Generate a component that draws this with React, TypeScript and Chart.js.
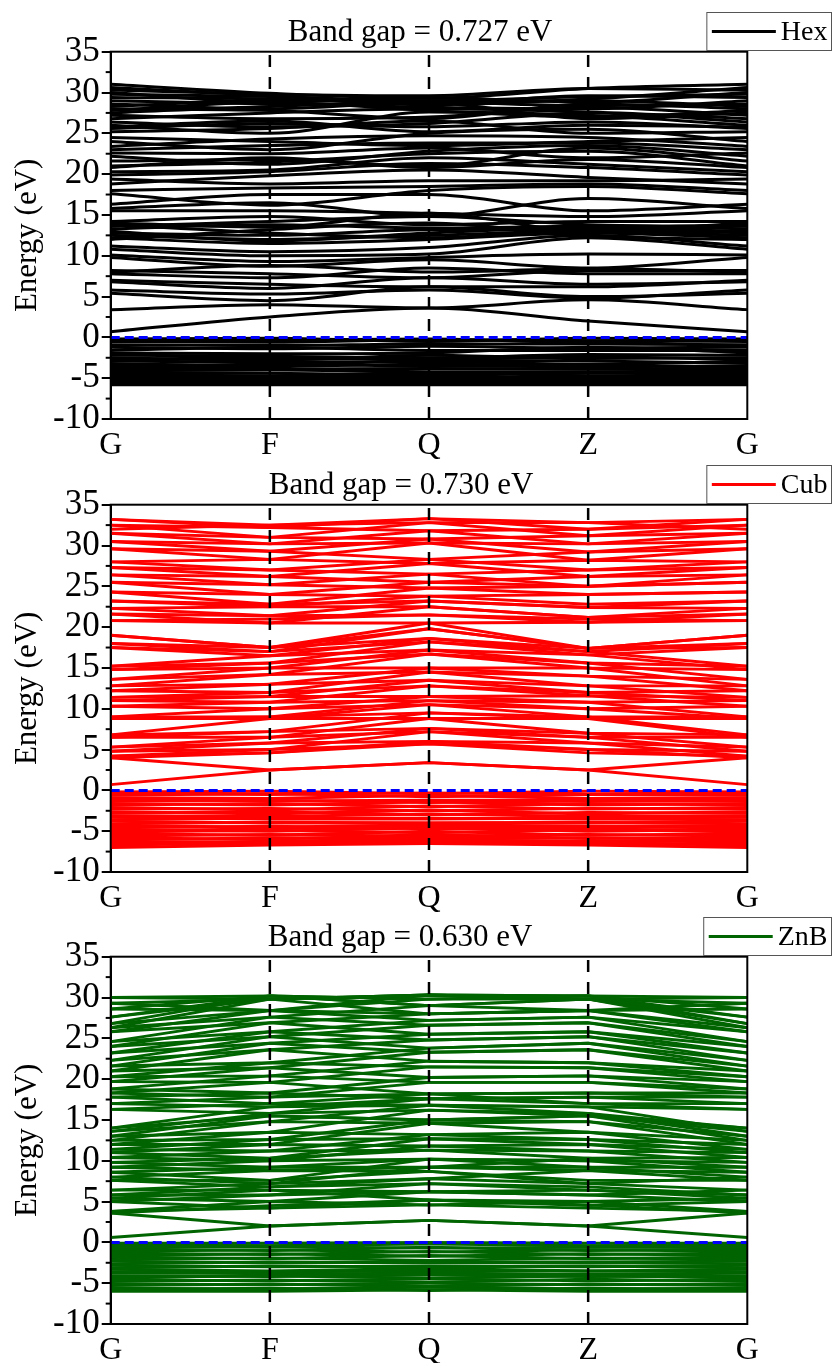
import React, { useEffect, useRef } from "react";
import { Chart, registerables } from "chart.js";

Chart.register(...registerables);

// ---------- shared axis data ----------
const kPositions = [0, 1, 2, 3, 4];
const kLabels = ["G", "F", "Q", "Z", "G"];
const yRange = [-10, 35];
const yStep = 5;
const fermiLevel = 0;

// ---------- Hex (energies in eV at G, F, Q, Z) ----------
const hexCondG = [0.7, 3.4, 5.4, 5.8, 6.8, 7.0, 7.8, 8.2, 9.8, 10.1, 10.8, 11.2, 12.2, 12.5, 12.8, 13.0, 13.3, 13.6, 14.0, 15.5, 15.8, 16.3, 17.6, 18.0, 18.8, 19.9, 20.3, 21.0, 21.6, 22.6, 23.0, 23.4, 24.0, 25.2, 25.6, 26.0, 26.8, 27.2, 27.5, 28.0, 28.3, 29.0, 29.8, 30.3, 30.6, 31.0, 24.5, 25.8, 26.4, 27.8, 28.6, 29.4, 30.0, 13.8, 12.0, 22.2, 20.8, 8.0, 14.2, 19.4];
const hexCondF = [2.5, 4.0, 4.5, 5.3, 6.0, 6.5, 7.3, 7.8, 8.7, 9.3, 10.0, 10.5, 11.5, 12.0, 12.5, 11.8, 13.8, 14.2, 13.5, 15.5, 16.5, 17.5, 16.2, 18.3, 19.8, 20.3, 20.5, 21.5, 21.8, 22.5, 23.5, 24.3, 23.0, 25.6, 26.2, 25.0, 27.5, 26.8, 28.3, 27.8, 29.0, 28.6, 29.5, 29.8, 29.6, 29.9, 24.0, 26.5, 25.8, 28.8, 28.0, 29.2, 28.8, 12.8, 13.2, 21.2, 22.0, 8.8, 14.8, 18.8];
const hexCondQ = [3.6, 3.6, 6.2, 5.8, 7.3, 6.2, 8.5, 7.3, 9.5, 9.8, 10.2, 11.0, 12.0, 12.5, 13.2, 12.8, 13.4, 14.8, 15.2, 15.2, 14.8, 17.5, 18.0, 18.5, 20.5, 21.3, 22.0, 22.5, 21.0, 23.2, 23.8, 24.7, 25.0, 26.5, 25.8, 27.6, 28.0, 27.0, 28.7, 26.8, 29.0, 28.2, 29.0, 29.6, 28.5, 29.3, 23.5, 25.2, 26.2, 27.8, 28.8, 28.6, 29.4, 12.2, 14.0, 22.8, 20.8, 8.0, 13.8, 19.2];
const hexCondZ = [2.0, 4.6, 5.0, 4.8, 6.5, 6.2, 7.8, 8.2, 8.5, 10.2, 12.2, 12.5, 12.8, 13.0, 13.2, 13.4, 13.6, 13.8, 13.0, 14.8, 17.0, 15.5, 18.5, 18.8, 19.6, 20.8, 21.2, 22.8, 23.2, 22.0, 23.8, 24.5, 25.5, 25.0, 26.4, 27.2, 27.6, 28.2, 26.8, 28.6, 29.0, 28.0, 29.5, 30.5, 29.2, 30.5, 24.0, 26.0, 27.5, 27.0, 28.4, 29.6, 28.8, 13.3, 12.4, 23.5, 21.8, 8.4, 14.2, 19.2];
const hexValG = [-0.2, -0.5, -0.9, -1.2, -1.6, -1.9, -2.2, -2.5, -2.9, -3.2, -3.5, -3.8, -4.1, -4.3, -4.6, -4.9, -5.2, -5.5, -5.8, -0.3, -2.7, -3.7, -4.8, -5.6, -5.0];
const hexValF = [-0.1, -0.6, -1.0, -1.4, -1.2, -2.0, -2.3, -2.8, -3.0, -3.5, -3.3, -3.9, -4.0, -4.4, -4.7, -5.0, -5.2, -5.5, -5.8, -0.3, -2.5, -3.6, -4.8, -5.7, -5.4];
const hexValQ = [-0.5, -0.3, -0.8, -1.1, -1.6, -1.9, -2.5, -2.2, -3.0, -2.8, -3.5, -3.8, -4.2, -4.6, -4.3, -5.0, -5.3, -5.5, -5.8, -0.2, -2.7, -3.3, -4.8, -5.6, -5.1];
const hexValZ = [-0.1, -0.4, -0.8, -1.3, -1.6, -1.2, -2.1, -2.6, -3.3, -2.9, -3.6, -3.9, -4.2, -4.4, -4.7, -5.0, -5.3, -5.5, -5.8, -0.6, -2.4, -3.4, -4.9, -5.7, -5.2];

// ---------- Cub ----------
const cubCondG = [0.7, 4.0, 4.0, 4.2, 4.2, 4.8, 4.8, 5.3, 5.3, 6.5, 6.5, 6.8, 6.8, 8.8, 8.8, 9.0, 9.0, 10.3, 10.3, 11.0, 11.0, 11.4, 11.4, 12.2, 12.2, 12.8, 12.8, 13.6, 13.6, 14.8, 14.8, 15.2, 15.2, 17.5, 17.5, 18.0, 18.0, 19.0, 19.0, 20.8, 20.8, 21.6, 21.6, 22.3, 22.3, 23.2, 23.2, 24.3, 24.3, 25.5, 25.5, 26.4, 26.4, 27.3, 27.3, 28.0, 28.0, 29.6, 29.6, 30.5, 30.5, 31.5, 31.5, 32.5, 32.5, 33.2, 33.2, 32.0];
const cubCondF = [2.5, 2.5, 4.6, 5.0, 4.6, 5.8, 5.0, 6.5, 5.8, 7.2, 6.5, 8.8, 7.2, 9.0, 8.8, 10.0, 9.0, 10.8, 10.0, 11.5, 10.8, 12.0, 11.5, 13.0, 12.0, 14.2, 13.0, 15.0, 14.2, 15.6, 15.0, 16.5, 15.6, 17.0, 16.5, 17.5, 17.0, 17.5, 17.5, 20.5, 21.0, 21.4, 20.5, 22.5, 21.4, 22.8, 22.5, 24.0, 22.8, 25.2, 24.0, 26.2, 25.2, 27.0, 26.2, 28.3, 27.0, 29.3, 28.3, 30.2, 29.3, 31.0, 30.2, 32.2, 31.0, 32.5, 32.2, 32.5];
const cubCondQ = [3.4, 3.4, 5.7, 5.7, 6.0, 6.0, 7.2, 7.2, 7.6, 7.6, 8.8, 8.8, 9.5, 9.5, 10.5, 10.5, 11.0, 11.0, 11.5, 11.5, 12.8, 12.8, 13.5, 13.5, 14.5, 14.5, 15.0, 15.0, 16.7, 16.7, 17.2, 17.2, 18.2, 18.2, 18.6, 18.6, 19.8, 19.8, 20.5, 20.5, 21.5, 21.5, 22.5, 22.5, 23.2, 23.2, 23.8, 23.8, 24.8, 24.8, 25.5, 25.5, 26.5, 26.5, 27.8, 27.8, 28.3, 28.3, 30.3, 30.3, 30.8, 30.8, 31.8, 31.8, 32.8, 32.8, 33.3, 33.3];
const cubCondZ = [2.5, 2.5, 5.0, 4.6, 5.8, 5.0, 6.5, 5.8, 7.0, 6.5, 8.8, 7.0, 9.0, 8.8, 10.0, 9.0, 10.8, 10.0, 11.6, 10.8, 12.0, 11.6, 12.8, 12.0, 14.0, 12.8, 15.0, 14.0, 15.6, 15.0, 16.6, 15.6, 17.0, 16.6, 17.4, 17.0, 17.4, 17.4, 17.4, 20.6, 21.0, 20.6, 21.2, 21.2, 22.4, 22.4, 22.8, 24.0, 24.0, 25.0, 25.0, 26.2, 25.0, 27.0, 26.2, 28.2, 27.0, 29.2, 28.2, 30.2, 29.2, 31.2, 30.2, 32.0, 31.2, 32.8, 32.0, 32.8];
const cubValG = [-0.2, -0.4, -0.6, -0.9, -1.1, -1.3, -1.6, -1.8, -2.1, -2.3, -2.6, -2.8, -3.1, -3.3, -3.6, -3.8, -4.1, -4.3, -4.6, -4.8, -5.1, -5.3, -5.6, -5.8, -6.1, -6.3, -6.6, -6.8, -7.0, -5.0];
const cubValF = [-0.1, -0.5, -0.4, -1.0, -1.3, -1.2, -1.8, -1.6, -2.4, -2.2, -2.9, -2.6, -3.2, -3.5, -3.4, -4.0, -3.9, -4.5, -4.4, -5.0, -4.9, -5.5, -5.4, -6.0, -5.8, -6.3, -6.5, -6.2, -6.7, -4.7];
const cubValQ = [-0.4, -0.3, -0.8, -0.6, -1.2, -1.5, -1.4, -2.0, -1.9, -2.5, -2.4, -3.0, -2.9, -3.5, -3.4, -4.0, -4.0, -4.2, -4.7, -4.6, -5.2, -5.0, -5.6, -5.4, -5.9, -6.1, -6.3, -6.0, -6.5, -4.4];
const cubValZ = [-0.1, -0.5, -0.5, -1.0, -1.2, -1.3, -1.8, -1.6, -2.3, -2.2, -2.9, -2.7, -3.2, -3.4, -3.5, -4.0, -3.9, -4.4, -4.5, -5.0, -4.8, -5.5, -5.4, -5.9, -5.8, -6.2, -6.5, -6.3, -6.7, -4.7];

// ---------- ZnB ----------
const znbCondG = [0.6, 3.6, 3.8, 3.6, 3.8, 5.0, 5.0, 5.4, 5.4, 5.8, 5.8, 6.4, 6.4, 7.6, 7.6, 8.0, 8.0, 8.6, 8.6, 9.2, 9.2, 9.8, 9.8, 10.4, 10.4, 11.0, 11.0, 11.4, 11.4, 12.0, 12.0, 12.5, 12.5, 13.0, 13.0, 13.6, 13.6, 14.0, 14.0, 16.3, 16.3, 17.0, 17.0, 17.8, 17.8, 18.3, 18.3, 18.8, 18.8, 19.7, 19.7, 20.3, 20.3, 21.0, 21.0, 21.6, 21.6, 22.3, 22.3, 23.2, 23.2, 24.0, 24.0, 24.6, 24.6, 25.8, 25.8, 26.3, 26.3, 26.8, 26.8, 27.6, 27.6, 28.6, 28.6, 29.3, 29.3, 30.0, 30.0];
const znbCondF = [2.0, 2.0, 4.2, 4.5, 5.0, 4.2, 5.8, 5.0, 6.4, 6.8, 5.8, 7.2, 6.4, 7.6, 6.8, 8.8, 7.2, 9.2, 7.6, 10.0, 8.8, 10.3, 9.2, 11.2, 10.0, 12.0, 10.3, 12.6, 11.2, 13.5, 12.0, 14.8, 12.6, 15.5, 13.5, 15.8, 14.8, 16.6, 15.5, 15.8, 17.0, 16.6, 17.8, 17.0, 18.3, 17.8, 19.6, 18.3, 20.4, 19.6, 21.4, 20.4, 22.0, 21.4, 23.6, 22.0, 24.4, 23.6, 25.2, 24.4, 25.8, 25.2, 26.9, 25.8, 27.6, 26.9, 28.4, 27.6, 29.8, 28.4, 30.2, 29.8, 30.2, 28.4, 30.2, 29.8, 28.4, 30.2, 29.8];
const znbCondQ = [2.7, 2.7, 4.6, 5.2, 4.6, 5.2, 6.2, 6.2, 5.2, 7.2, 7.2, 7.8, 6.2, 8.7, 7.8, 8.7, 9.2, 9.2, 10.2, 10.2, 9.2, 11.3, 10.2, 11.3, 11.8, 11.8, 12.7, 12.7, 13.2, 13.2, 14.6, 14.6, 15.0, 15.0, 16.2, 16.2, 16.8, 16.8, 15.0, 17.6, 16.8, 17.6, 18.2, 18.2, 17.6, 19.6, 18.2, 20.2, 19.6, 21.5, 20.2, 22.2, 21.5, 23.3, 22.2, 23.8, 23.3, 24.8, 23.8, 25.5, 24.8, 26.6, 25.5, 27.2, 26.6, 28.0, 27.2, 29.0, 28.0, 29.8, 29.0, 30.3, 29.8, 30.3, 29.0, 30.3, 28.0, 29.8, 30.3];
const znbCondZ = [2.0, 2.0, 4.2, 4.6, 5.0, 4.5, 5.8, 6.4, 5.0, 6.8, 6.4, 7.2, 5.8, 7.6, 8.8, 7.2, 9.2, 8.8, 10.0, 9.2, 10.3, 11.2, 10.0, 10.3, 12.0, 11.2, 12.6, 12.0, 13.5, 12.6, 14.8, 13.5, 15.5, 14.8, 15.8, 15.5, 16.6, 15.8, 15.5, 17.0, 16.6, 17.8, 17.0, 18.3, 17.8, 19.6, 18.3, 20.4, 19.6, 21.4, 20.4, 22.0, 21.4, 23.6, 22.0, 24.4, 23.6, 25.2, 24.4, 25.8, 25.2, 26.9, 25.8, 27.6, 26.9, 28.4, 27.6, 29.8, 28.4, 30.2, 29.8, 30.2, 29.8, 30.2, 28.4, 29.8, 28.4, 30.2, 29.8];
const znbValG = [-0.1, -0.3, -0.6, -0.8, -1.1, -1.3, -1.6, -1.8, -2.1, -2.3, -2.6, -2.8, -3.1, -3.3, -3.6, -3.8, -4.1, -4.3, -4.6, -4.8, -5.1, -5.3, -5.6, -5.8, -6.0, -4.4];
const znbValF = [-0.1, -0.4, -0.5, -1.0, -0.9, -1.5, -1.4, -2.0, -1.9, -2.5, -2.4, -3.0, -2.9, -3.5, -3.6, -3.8, -4.2, -4.1, -4.7, -4.6, -5.2, -5.1, -5.7, -5.6, -6.0, -4.0];
const znbValQ = [0.0, -0.2, -0.7, -0.6, -1.2, -1.1, -1.7, -1.6, -2.2, -2.4, -2.5, -2.9, -3.0, -3.2, -3.5, -3.9, -4.0, -4.4, -4.5, -4.9, -5.0, -5.4, -5.5, -5.9, -5.8, -3.7];
const znbValZ = [-0.1, -0.4, -0.6, -1.0, -0.9, -1.5, -1.4, -2.0, -1.9, -2.4, -2.5, -3.0, -2.9, -3.5, -3.5, -3.9, -4.2, -4.1, -4.7, -4.5, -5.2, -5.1, -5.7, -5.6, -6.0, -4.0];

const titles = ["Band gap = 0.727 eV", "Band gap = 0.730 eV", "Band gap = 0.630 eV"];
const seriesNames = ["Hex", "Cub", "ZnB"];

const SERIF = '"Liberation Serif", "Times New Roman", serif';

type PanelStyle = {
  top: number;
  height: number;
  color: string;
  lineWidth: number;
  curved: boolean;
  titleX: number;
};

function bandsFrom(G: number[], F: number[], Q: number[], Z: number[]) {
  // path G -> F -> Q -> Z -> G (closing G is the same k-point)
  return G.map((g, i) => [g, F[i], Q[i], Z[i], g]);
}

const panels = [
  {
    title: titles[0],
    name: seriesNames[0],
    bands: [...bandsFrom(hexValG, hexValF, hexValQ, hexValZ), ...bandsFrom(hexCondG, hexCondF, hexCondQ, hexCondZ)],
    style: { top: 0, height: 470, color: "#000000", lineWidth: 3, curved: true, titleX: 420 } as PanelStyle,
  },
  {
    title: titles[1],
    name: seriesNames[1],
    bands: [...bandsFrom(cubValG, cubValF, cubValQ, cubValZ), ...bandsFrom(cubCondG, cubCondF, cubCondQ, cubCondZ)],
    style: { top: 453, height: 470, color: "#ff0000", lineWidth: 2.9, curved: false, titleX: 401 } as PanelStyle,
  },
  {
    title: titles[2],
    name: seriesNames[2],
    bands: [...bandsFrom(znbValG, znbValF, znbValQ, znbValZ), ...bandsFrom(znbCondG, znbCondF, znbCondQ, znbCondZ)],
    style: { top: 905, height: 458, color: "#006400", lineWidth: 2.9, curved: false, titleX: 400 } as PanelStyle,
  },
];

const PLOT_LEFT = 110.7;
const PLOT_RIGHT = 747.3;
const PLOT_TOP = 51.7;
const PLOT_BOTTOM = 419;

function BandPanel({ title, name, bands, style }: { title: string; name: string; bands: number[][]; style: PanelStyle }) {
  const ref = useRef<HTMLCanvasElement | null>(null);

  useEffect(() => {
    const canvas = ref.current;
    if (!canvas) return;

    const datasets: any[] = [];
    // high-symmetry dashed separators (drawn on top)
    kPositions.slice(1, kPositions.length - 1).forEach((k) => {
      datasets.push({
        data: [{ x: k, y: yRange[0] }, { x: k, y: yRange[1] }],
        borderColor: "#000000",
        borderWidth: 2.5,
        borderDash: [12, 10],
        pointRadius: 0,
        tension: 0,
      });
    });
    // Fermi level
    datasets.push({
      data: kPositions.map((x) => ({ x, y: fermiLevel })),
      borderColor: "#0000ff",
      borderWidth: 3,
      borderDash: [9, 5],
      pointRadius: 0,
      tension: 0,
    });
    bands.forEach((b) => {
      datasets.push({
        data: kPositions.map((x, j) => ({ x, y: b[j] })),
        borderColor: style.color,
        borderWidth: style.lineWidth,
        pointRadius: 0,
        tension: style.curved ? 0.4 : 0,
        cubicInterpolationMode: style.curved ? "monotone" : "default",
        borderJoinStyle: "round",
      });
    });

    const decor = {
      id: "decor" + name,
      afterDatasetsDraw(chart: any) {
        const { ctx, chartArea, scales } = chart;
        ctx.save();
        ctx.strokeStyle = "#000";
        ctx.lineWidth = 2;
        ctx.strokeRect(chartArea.left, chartArea.top, chartArea.right - chartArea.left, chartArea.bottom - chartArea.top);
        const ys = scales.y;
        for (let v = yRange[0] + yStep / 2; v < yRange[1]; v += yStep) {
          const py = ys.getPixelForValue(v);
          ctx.beginPath();
          ctx.moveTo(chartArea.left - 5, py);
          ctx.lineTo(chartArea.left, py);
          ctx.stroke();
        }
        ctx.restore();
      },
      afterDraw(chart: any) {
        const { ctx } = chart;
        ctx.save();
        ctx.fillStyle = "#000";
        ctx.font = `31px ${SERIF}`;
        ctx.textAlign = "center";
        ctx.textBaseline = "middle";
        ctx.fillText(title, style.titleX, 33);
        ctx.font = `28px ${SERIF}`;
        const tw = ctx.measureText(name).width;
        const right = 831.5;
        const top = 12.5;
        const bottom = 50.5;
        const lineLen = 64;
        const left = right - 4 - tw - 5 - lineLen - 5;
        ctx.fillStyle = "#fff";
        ctx.fillRect(left, top, right - left, bottom - top);
        ctx.strokeStyle = "#555";
        ctx.lineWidth = 1;
        ctx.strokeRect(left, top, right - left, bottom - top);
        const mid = (top + bottom) / 2;
        ctx.strokeStyle = style.color;
        ctx.lineWidth = 3;
        ctx.beginPath();
        ctx.moveTo(left + 5, mid);
        ctx.lineTo(left + 5 + lineLen, mid);
        ctx.stroke();
        ctx.fillStyle = "#000";
        ctx.textAlign = "left";
        ctx.textBaseline = "middle";
        ctx.fillText(name, left + 5 + lineLen + 5, mid + 1);
        ctx.restore();
      },
    };

    const chart = new Chart(canvas, {
      type: "line",
      data: { datasets },
      options: {
        responsive: false,
        animation: false,
        events: [],
        layout: { padding: { top: PLOT_TOP, right: 832 - PLOT_RIGHT, left: 0, bottom: 0 } },
        plugins: {
          legend: { display: false },
          tooltip: { enabled: false },
          title: { display: false },
        },
        scales: {
          x: {
            type: "linear",
            min: kPositions[0],
            max: kPositions[kPositions.length - 1],
            afterBuildTicks: (s: any) => {
              s.ticks = kPositions.map((v) => ({ value: v }));
            },
            ticks: {
              autoSkip: false,
              maxRotation: 0,
              padding: 7,
              color: "#000",
              font: { family: SERIF, size: 32 },
              callback: (v: any) => kLabels[kPositions.indexOf(Number(v))] ?? "",
            },
            grid: { display: false, drawTicks: false },
            border: { display: true, color: "#000", width: 2 },
            afterFit: (s: any) => {
              s.height = style.height - PLOT_BOTTOM;
            },
          },
          y: {
            type: "linear",
            min: yRange[0],
            max: yRange[1],
            ticks: {
              stepSize: yStep,
              autoSkip: false,
              padding: 2,
              color: "#000",
              font: { family: SERIF, size: 35 },
            },
            grid: { drawOnChartArea: false, drawTicks: true, tickLength: 9, color: "#000", lineWidth: 2 },
            border: { display: true, color: "#000", width: 2 },
            title: {
              display: true,
              text: "Energy (eV)",
              color: "#000",
              font: { family: SERIF, size: 31 },
              padding: { top: 9, bottom: 0 },
            },
            afterFit: (s: any) => {
              s.width = PLOT_LEFT;
            },
          },
        },
      },
      plugins: [decor],
    } as any);

    return () => chart.destroy();
  }, [title, name, bands, style]);

  return (
    <canvas
      ref={ref}
      width={832}
      height={style.height}
      style={{ position: "absolute", left: 0, top: style.top, width: 832, height: style.height, display: "block" }}
    />
  );
}

export default function App() {
  return (
    <div style={{ position: "absolute", left: 0, top: 0, width: 832, height: 1363, overflow: "hidden", background: "#fff" }}>
      {panels.map((p, i) => (
        <BandPanel key={i} title={p.title} name={p.name} bands={p.bands} style={p.style} />
      ))}
    </div>
  );
}
